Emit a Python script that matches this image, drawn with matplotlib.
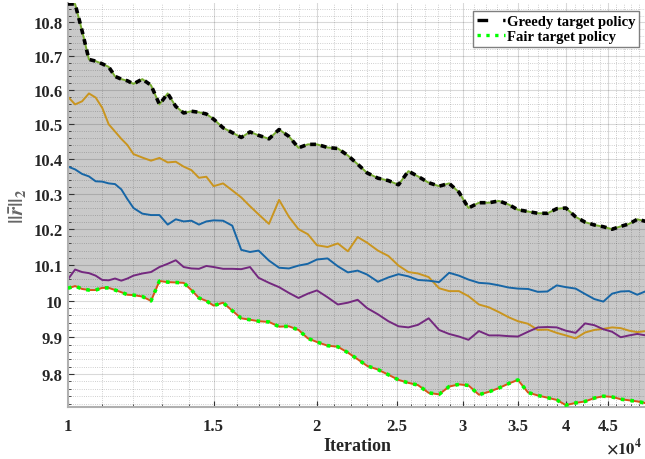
import matplotlib
matplotlib.use('Agg')
import matplotlib.pyplot as plt
from matplotlib.lines import Line2D
from matplotlib.ticker import FixedLocator, MultipleLocator, FuncFormatter, NullFormatter

# iteration axis (shared by every curve)
iters = [10000, 10200, 10400, 10600, 10800, 11000, 11200, 11400, 11600, 11800, 12000,
         12300, 12600, 12900, 13200, 13500, 13800, 14100, 14400, 14700, 15000,
         15400, 15800, 16200, 16600, 17000,
         17500, 18000, 18500, 19000, 19500, 20000,
         20600, 21200, 21800, 22400, 23000,
         23700, 24400, 25100, 25800, 26500,
         27300, 28100, 28900, 29700, 30500,
         31400, 32300, 33200, 34100, 35000,
         36000, 37000, 38000, 39000, 40000,
         41100, 42200, 43300, 44400, 45500, 46600, 47700, 48800, 50000]

greedy = [10.855, 10.855, 10.775, 10.690, 10.685, 10.677, 10.668, 10.640, 10.632, 10.627, 10.618,
          10.632, 10.614, 10.558, 10.590, 10.552, 10.533, 10.538, 10.535, 10.530, 10.515,
          10.490, 10.476, 10.462, 10.478, 10.468,
          10.458, 10.485, 10.465, 10.432, 10.442, 10.442,
          10.433, 10.430, 10.410, 10.385, 10.360,
          10.345, 10.338, 10.326, 10.365, 10.350,
          10.332, 10.322, 10.330, 10.305, 10.260,
          10.275, 10.275, 10.280, 10.270, 10.255,
          10.250, 10.245, 10.245, 10.258, 10.260,
          10.235, 10.220, 10.212, 10.207, 10.200, 10.208, 10.215, 10.228, 10.222]

gold = [10.580, 10.558, 10.567, 10.590, 10.578, 10.548, 10.500, 10.479, 10.458, 10.440, 10.414,
        10.404, 10.395, 10.403, 10.390, 10.392, 10.378, 10.368, 10.346, 10.349, 10.322,
        10.330, 10.310, 10.290, 10.265, 10.242,
        10.215, 10.283, 10.235, 10.200, 10.186, 10.155,
        10.150, 10.160, 10.138, 10.178, 10.162,
        10.140, 10.125, 10.098, 10.080, 10.076,
        10.066, 10.035, 10.027, 10.027, 10.013,
        9.990, 9.982, 9.969, 9.955, 9.944,
        9.937, 9.920, 9.921, 9.912, 9.905,
        9.897, 9.913, 9.920, 9.923, 9.927, 9.925, 9.918, 9.914, 9.917]

blue = [10.378, 10.370, 10.357, 10.350, 10.336, 10.335, 10.330, 10.328, 10.313, 10.285, 10.260,
        10.244, 10.240, 10.240, 10.213, 10.228, 10.222, 10.224, 10.213, 10.222, 10.225,
        10.224, 10.210, 10.142, 10.136, 10.140,
        10.112, 10.092, 10.090, 10.098, 10.103, 10.115,
        10.118, 10.096, 10.079, 10.084, 10.073,
        10.053, 10.065, 10.074, 10.068, 10.058,
        10.056, 10.052, 10.078, 10.070, 10.059,
        10.050, 10.048, 10.043, 10.037, 10.034,
        10.033, 10.025, 10.026, 10.043, 10.038,
        10.034, 10.019, 10.005, 9.998, 10.020, 10.026, 10.027, 10.017, 10.027]

purple = [10.060, 10.087, 10.080, 10.077, 10.070, 10.058, 10.057, 10.062, 10.056, 10.062, 10.070,
          10.076, 10.080, 10.094, 10.103, 10.113, 10.094, 10.090, 10.089, 10.097, 10.094,
          10.089, 10.089, 10.088, 10.094, 10.064,
          10.050, 10.038, 10.022, 10.008, 10.020, 10.029,
          10.010, 9.990, 9.995, 10.003, 9.980,
          9.963, 9.944, 9.930, 9.927, 9.934,
          9.952, 9.920, 9.909, 9.902, 9.893,
          9.917, 9.905, 9.905, 9.903, 9.902,
          9.915, 9.927, 9.928, 9.927, 9.918,
          9.912, 9.938, 9.933, 9.922, 9.915, 9.900, 9.905, 9.909, 9.905]

fair = [10.035, 10.041, 10.033, 10.030, 10.030, 10.036, 10.036, 10.030, 10.024, 10.017, 10.016,
        10.012, 10.000, 10.055, 10.052, 10.051, 10.050, 10.030, 10.008, 10.000, 9.987,
        9.995, 9.973, 9.952, 9.948, 9.944,
        9.942, 9.929, 9.930, 9.920, 9.897, 9.887,
        9.877, 9.874, 9.858, 9.840, 9.822,
        9.812, 9.798, 9.784, 9.776, 9.770,
        9.749, 9.745, 9.766, 9.772, 9.769,
        9.744, 9.752, 9.762, 9.774, 9.784,
        9.750, 9.742, 9.736, 9.730, 9.716,
        9.722, 9.726, 9.735, 9.740, 9.738, 9.732, 9.729, 9.726, 9.721]

xticks = [10000, 15000, 20000, 25000, 30000, 35000, 40000, 45000]
xticklabels = ['1', '1.5', '2', '2.5', '3', '3.5', '4', '4.5']

plt.rcParams['font.family'] = ['Liberation Serif', 'DejaVu Serif']
plt.rcParams['font.weight'] = 'bold'
plt.rcParams['mathtext.fontset'] = 'stix'

fig = plt.figure(figsize=(6.45, 4.6), dpi=100)
ax = fig.add_axes([68 / 645, 52 / 460, 578 / 645, 404 / 460])

# shaded band between the two target policies
ax.fill_between(iters, fair, greedy, color='#c9c9c9', lw=0, zorder=1)

ax.plot(iters, gold, color='#c9951f', lw=1.4, zorder=2)
ax.plot(iters, blue, color='#1766a6', lw=1.4, zorder=2)
ax.plot(iters, purple, color='#74287f', lw=1.4, zorder=2)
ax.plot(iters, greedy, color='#77ac30', lw=1.4, zorder=2)
ax.plot(iters, fair, color='#d95319', lw=1.4, zorder=2)

ax.plot(iters, greedy, color='k', ls='--', dashes=(1.6, 1.4), lw=2.6, zorder=3)
ax.plot(iters, fair, color='#00ff00', ls=':', lw=2.6, zorder=3)

ax.set_xscale('log')
ax.set_yscale('log')
ax.set_xlim(10000, 50000)
ax.set_ylim(9.711, 10.858)

ax.xaxis.set_major_locator(FixedLocator(xticks))
ax.xaxis.set_major_formatter(FuncFormatter(
    lambda v, p: xticklabels[xticks.index(int(round(v)))] if int(round(v)) in xticks else ''))
ax.xaxis.set_minor_locator(MultipleLocator(1000))
ax.xaxis.set_minor_formatter(NullFormatter())
ax.yaxis.set_major_locator(MultipleLocator(0.1))
ax.yaxis.set_major_formatter(FuncFormatter(lambda v, p: '{:g}'.format(round(v, 1))))
ax.yaxis.set_minor_locator(MultipleLocator(0.02))
ax.yaxis.set_minor_formatter(NullFormatter())

ax.set_axisbelow('line')
ax.grid(which='major', color='k', alpha=0.15, lw=0.8)
ax.grid(which='minor', color='k', alpha=0.25, ls=':', lw=0.6)

for s in ['top', 'right']:
    ax.spines[s].set_visible(False)
for s in ['left', 'bottom']:
    ax.spines[s].set_color('#b0b0b0')
    ax.spines[s].set_linewidth(1.5)

ax.tick_params(which='both', direction='in', color='#333333', labelsize=12, labelcolor='#262626')
ax.tick_params(which='major', length=4, width=0.8)
ax.tick_params(which='minor', length=2.5, width=0.6)
ax.tick_params(axis='x', pad=8)
ax.tick_params(axis='y', pad=4)

ax.set_xlabel('Iteration', fontsize=13, fontweight='bold', labelpad=2, color='#262626')
ax.set_ylabel(r'$||\bar{r}||_2$', fontsize=15, labelpad=3, color='#666666')
fig.text(606 / 645, 2 / 460, r'$\times10^4$', fontsize=12, ha='left', va='bottom', color='#262626')

# legend keys drawn with longer dashes than the jagged curves show
handles = [Line2D([], [], color='k', ls=(0, (3.2, 4.5)), lw=2.4),
           Line2D([], [], color='#00ff00', ls=':', lw=2.4)]
labels = ['Greedy target policy', 'Fair target policy']
leg = ax.legend(handles, labels, loc='upper right', bbox_to_anchor=(639 / 645, 1 - 12 / 460),
                bbox_transform=fig.transFigure, borderaxespad=0,
                prop={'weight': 'bold', 'size': 10.5}, fancybox=False, framealpha=1,
                edgecolor='#7f7f7f', handlelength=1.9, handletextpad=0.15,
                labelspacing=0.15, borderpad=0.25)
leg.get_frame().set_linewidth(1.0)
leg.set_zorder(5)

fig.savefig('out.png', dpi=100)
